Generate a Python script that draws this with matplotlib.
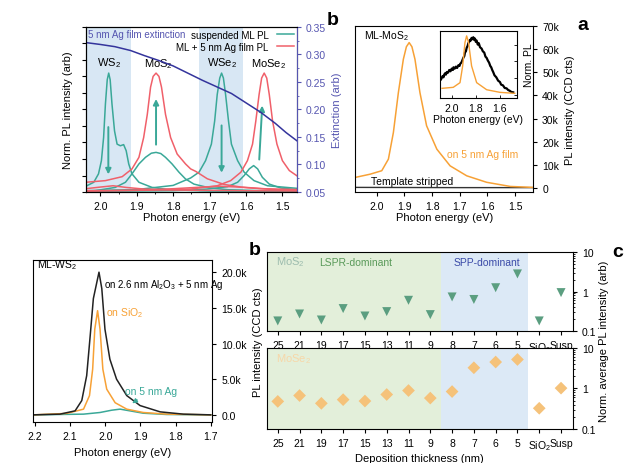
import numpy as np
import matplotlib
matplotlib.use('Agg')
import matplotlib.pyplot as plt
from matplotlib.ticker import FuncFormatter, NullFormatter

plt.rcParams['font.family'] = ['Liberation Sans', 'DejaVu Sans']
plt.rcParams['mathtext.default'] = 'regular'
plt.rcParams['font.size'] = 7.5

teal = '#3aa898'
red = '#f0606a'
orange = '#f7a136'
navy = '#34349c'
ext_col = '#5555b0'

# ---- panel b (top): PL of 4 monolayers + Ag film extinction ----
ext_x = [2.035, 2.0, 1.96, 1.917, 1.88, 1.84, 1.8, 1.76, 1.72, 1.68, 1.64, 1.6, 1.56, 1.52, 1.49, 1.46]
ext_y = [0.321, 0.318, 0.314, 0.307, 0.298, 0.289, 0.279, 0.266, 0.253, 0.241, 0.229, 0.212, 0.195, 0.175, 0.158, 0.143]

ws2_susp_x = [2.04, 2.037, 2.018, 2.005, 1.997, 1.991, 1.986, 1.981, 1.977, 1.973, 1.968, 1.961, 1.954, 1.945,
              1.936, 1.929, 1.922, 1.913, 1.894, 1.858, 1.803, 1.7, 1.6, 1.46]
ws2_susp_y = [0.036, 0.038, 0.059, 0.11, 0.19, 0.33, 0.533, 0.68, 0.72, 0.68, 0.533, 0.37, 0.29, 0.28,
              0.287, 0.25, 0.17, 0.11, 0.059, 0.028, 0.012, 0.006, 0.004, 0.003]
mos2_susp_x = [2.04, 2.014, 1.959, 1.931, 1.913, 1.894, 1.876, 1.86, 1.847, 1.834, 1.821, 1.803, 1.784, 1.766,
               1.743, 1.7, 1.65, 1.55, 1.46]
mos2_susp_y = [0.006, 0.008, 0.028, 0.059, 0.11, 0.17, 0.21, 0.235, 0.24, 0.233, 0.21, 0.17, 0.12, 0.079,
               0.048, 0.025, 0.014, 0.008, 0.005]
wse2_susp_x = [2.04, 1.9, 1.8, 1.752, 1.729, 1.711, 1.695, 1.686, 1.679, 1.672, 1.667, 1.662, 1.656, 1.648,
               1.64, 1.623, 1.605, 1.578, 1.541, 1.458]
wse2_susp_y = [0.008, 0.015, 0.04, 0.085, 0.12, 0.19, 0.29, 0.43, 0.59, 0.69, 0.72, 0.69, 0.59, 0.43,
               0.29, 0.19, 0.12, 0.069, 0.038, 0.022]
mose2_susp_x = [2.04, 1.8, 1.752, 1.706, 1.651, 1.623, 1.605, 1.591, 1.579, 1.568, 1.555, 1.536, 1.504, 1.458]
mose2_susp_y = [0.004, 0.008, 0.012, 0.018, 0.032, 0.059, 0.1, 0.14, 0.16, 0.14, 0.089, 0.048, 0.024, 0.014]

mos2_ag_x = [2.04, 1.986, 1.94, 1.913, 1.894, 1.881, 1.871, 1.862, 1.855, 1.847, 1.839, 1.832, 1.821, 1.807,
             1.789, 1.766, 1.752, 1.738, 1.706, 1.66, 1.614, 1.55, 1.46]
mos2_ag_y = [0.059, 0.069, 0.093, 0.14, 0.21, 0.33, 0.47, 0.635, 0.70, 0.72, 0.70, 0.635, 0.47, 0.33,
             0.23, 0.17, 0.14, 0.125, 0.08, 0.046, 0.03, 0.02, 0.015]
mose2_ag_x = [2.04, 1.85, 1.752, 1.679, 1.642, 1.614, 1.596, 1.582, 1.573, 1.564, 1.557, 1.55, 1.543, 1.536,
              1.527, 1.515, 1.5, 1.481, 1.458]
mose2_ag_y = [0.008, 0.012, 0.018, 0.038, 0.069, 0.12, 0.19, 0.29, 0.43, 0.59, 0.69, 0.72, 0.69, 0.59,
              0.43, 0.29, 0.19, 0.13, 0.095]
ws2_ag_x = [2.04, 2.0, 1.965, 1.93, 1.88, 1.8, 1.7, 1.6, 1.46]
ws2_ag_y = [0.02, 0.03, 0.038, 0.028, 0.018, 0.012, 0.01, 0.008, 0.006]
wse2_ag_x = [2.04, 1.9, 1.8, 1.72, 1.67, 1.62, 1.56, 1.5, 1.46]
wse2_ag_y = [0.005, 0.01, 0.02, 0.03, 0.035, 0.03, 0.02, 0.012, 0.01]

# ---- panel a: MoS2 on Ag film ----
mos2_film_x = [2.078, 2.024, 1.982, 1.958, 1.94, 1.922, 1.904, 1.893, 1.883, 1.873, 1.862, 1.844, 1.82,
               1.783, 1.735, 1.675, 1.603, 1.517, 1.435]
mos2_film_y = [4600, 6000, 7500, 12500, 24000, 41200, 55600, 61000, 62800, 61000, 55600, 41200, 26900,
               16800, 9600, 5300, 2500, 700, 300]
stripped_x = [2.078, 1.9, 1.7, 1.435]
stripped_y = [300, 250, 200, 200]

inset_black_x = [2.088, 2.08, 2.075, 2.068, 2.062, 2.055, 2.048, 2.04, 2.03, 2.02, 2.01, 2.0, 1.99, 1.985,
                 1.975, 1.965, 1.955, 1.945, 1.935, 1.93, 1.92, 1.915, 1.904, 1.895, 1.89, 1.882, 1.876,
                 1.868, 1.862, 1.855, 1.849, 1.842, 1.835, 1.828, 1.821, 1.814, 1.807, 1.8, 1.793, 1.784,
                 1.775, 1.765, 1.752, 1.742, 1.73, 1.72, 1.71, 1.7, 1.69, 1.68, 1.672, 1.664, 1.656, 1.645,
                 1.63, 1.615, 1.6, 1.59, 1.575, 1.56, 1.545, 1.532, 1.52, 1.505, 1.49]
inset_black_y = [0.28, 0.31, 0.33, 0.31, 0.35, 0.37, 0.35, 0.39, 0.38, 0.42, 0.4, 0.44, 0.42, 0.46,
                 0.44, 0.47, 0.45, 0.49, 0.48, 0.51, 0.53, 0.55, 0.6, 0.63, 0.68, 0.7, 0.75,
                 0.78, 0.82, 0.84, 0.87, 0.86, 0.9, 0.88, 0.91, 0.87, 0.89, 0.84, 0.86, 0.8,
                 0.82, 0.76, 0.74, 0.7, 0.68, 0.62, 0.6, 0.56, 0.53, 0.48, 0.46, 0.42, 0.39, 0.34,
                 0.31, 0.26, 0.24, 0.2, 0.19, 0.15, 0.145, 0.12, 0.11, 0.09, 0.085]
inset_orange_x = [2.08, 1.987, 1.931, 1.909, 1.89, 1.876, 1.86, 1.835, 1.793, 1.71, 1.6, 1.477]
inset_orange_y = [0.145, 0.16, 0.23, 0.48, 0.83, 0.93, 0.83, 0.48, 0.23, 0.124, 0.085, 0.07]

# ---- panel b (bottom): WS2 ----
ws2_al2o3_x = [2.205, 2.129, 2.086, 2.067, 2.053, 2.043, 2.034, 2.018, 2.01, 2.001, 1.987, 1.968, 1.939,
               1.901, 1.844, 1.778, 1.7]
ws2_al2o3_y = [0, 100, 560, 2000, 5500, 11100, 16300, 20000, 17700, 12000, 7800, 5000, 2700,
               1300, 420, 100, 0]
ws2_sio2_x = [2.205, 2.11, 2.062, 2.045, 2.036, 2.03, 2.022, 2.015, 2.007, 1.996, 1.972, 1.939, 1.892, 1.825, 1.7]
ws2_sio2_y = [0, 200, 800, 2700, 6400, 12000, 14600, 12000, 6400, 3600, 1700, 800, 330, 100, 0]
ws2_agfilm_x = [2.205, 2.062, 2.015, 1.982, 1.958, 1.93, 1.892, 1.825, 1.7]
ws2_agfilm_y = [0, 100, 330, 650, 800, 560, 230, 50, 0]

# ---- panel c: thickness dependence ----
thick_labels = ['Susp', 'SiO$_2$', '5', '6', '7', '8', '9', '11', '13', '15', '17', '19', '21', '25']
mos2_avg = [0.94, 0.18, 2.8, 1.25, 0.63, 0.73, 0.26, 0.6, 0.31, 0.24, 0.37, 0.19, 0.27, 0.18]
mose2_avg = [1.02, 0.325, 5.2, 4.5, 3.25, 0.84, 0.58, 0.89, 0.71, 0.49, 0.53, 0.43, 0.67, 0.48]

fig = plt.figure(figsize=(6.4, 4.64), dpi=100)


def mirror(ax):
    ax.yaxis.tick_right()
    ax.yaxis.set_label_position('right')
    ax.tick_params(direction='out', length=3, width=0.8, labelsize=7.5)
    for s in ax.spines.values():
        s.set_linewidth(0.8)


# top-left panel
ax = fig.add_axes([0.134, 0.584, 0.33, 0.356])
ax.axvspan(2.04, 1.917, color='#d8e7f4', lw=0)
ax.axvspan(1.73, 1.609, color='#d8e7f4', lw=0)
for xs, ys in [(ws2_susp_x, ws2_susp_y), (mos2_susp_x, mos2_susp_y), (wse2_susp_x, wse2_susp_y),
               (mose2_susp_x, mose2_susp_y)]:
    ax.plot(xs, ys, color=teal, lw=1.1)
for xs, ys in [(mos2_ag_x, mos2_ag_y), (mose2_ag_x, mose2_ag_y), (ws2_ag_x, ws2_ag_y), (wse2_ag_x, wse2_ag_y)]:
    ax.plot(xs, ys, color=red, lw=1.1)
ax.plot([], [], color=teal, lw=1.1, label='suspended ML PL')
ax.plot([], [], color=red, lw=1.1, label='ML + 5 nm Ag film PL')
ax.set_xlim(2.04, 1.46)
ax.set_ylim(0, 1)
ax.set_yticks(np.arange(0, 1.01, 0.1))
ax.set_yticklabels([])
ax.set_xticks([2.0, 1.9, 1.8, 1.7, 1.6, 1.5])
ax.set_xticks(np.arange(1.5, 2.04, 0.05), minor=True)
ax.tick_params(direction='out', length=3, width=0.8, labelsize=7.5)
ax.tick_params(which='minor', length=1.5)
ax.set_xlabel('Photon energy (eV)', fontsize=8, labelpad=1)
ax.set_ylabel('Norm. PL intensity (arb)', fontsize=8, labelpad=3)
arr = dict(arrowstyle='-|>', color=teal, lw=1.4, mutation_scale=8)
ax.annotate('', xy=(1.978, 0.09), xytext=(1.978, 0.41), arrowprops=arr)
ax.annotate('', xy=(1.847, 0.58), xytext=(1.847, 0.27), arrowprops=arr)
ax.annotate('', xy=(1.667, 0.1), xytext=(1.667, 0.42), arrowprops=arr)
ax.annotate('', xy=(1.555, 0.54), xytext=(1.564, 0.18), arrowprops=arr)
ax.text(1.977, 0.77, 'WS$_2$', ha='center', fontsize=8)
ax.text(1.84, 0.76, 'MoS$_2$', ha='center', fontsize=8)
ax.text(1.667, 0.77, 'WSe$_2$', ha='center', fontsize=8)
ax.text(1.537, 0.76, 'MoSe$_2$', ha='center', fontsize=8)
ax.text(2.035, 0.955, '5 nm Ag film extinction', color=ext_col, fontsize=7, va='center')
ax.legend(loc='upper right', frameon=False, markerfirst=False, fontsize=7, handlelength=1.8,
          borderpad=0.2, labelspacing=0.2, borderaxespad=0.1)
for s in ax.spines.values():
    s.set_linewidth(0.8)
ax2 = ax.twinx()
ax2.plot(ext_x, ext_y, color=navy, lw=1.1)
ax2.set_ylim(0.05, 0.35)
ax2.set_yticks([0.05, 0.10, 0.15, 0.20, 0.25, 0.30, 0.35])
ax2.yaxis.set_major_formatter(FuncFormatter(lambda v, p: '%.2f' % v))
ax2.set_yticks(np.arange(0.05, 0.351, 0.025), minor=True)
ax2.tick_params(direction='out', length=3, width=0.8, labelsize=7.5, colors=ext_col)
ax2.tick_params(which='minor', length=1.5, colors=ext_col)
ax2.spines['right'].set_color(ext_col)
ax2.set_ylabel('Extinction (arb)', color=ext_col, fontsize=8)

# panel a
axa = fig.add_axes([0.555, 0.584, 0.278, 0.358])
axa.plot(stripped_x, stripped_y, color='#333333', lw=1)
axa.plot(mos2_film_x, mos2_film_y, color=orange, lw=1.1)
axa.set_xlim(2.078, 1.435)
axa.set_ylim(-1700, 70000)
axa.set_yticks(np.arange(0, 70001, 10000))
axa.yaxis.set_major_formatter(FuncFormatter(lambda v, p: '0' if v == 0 else '%dk' % (v / 1000)))
axa.set_xticks([2.0, 1.9, 1.8, 1.7, 1.6, 1.5])
mirror(axa)
axa.set_xlabel('Photon energy (eV)', fontsize=8, labelpad=1)
axa.set_ylabel('PL intensity (CCD cts)', fontsize=8)
axa.text(2.045, 66000, 'ML-MoS$_2$', fontsize=7.5, va='center')
axa.text(1.745, 14600, 'on 5 nm Ag film', color=orange, fontsize=7.5, va='center')
axa.text(2.02, 3000, 'Template stripped', fontsize=7.5, va='center')

axi = fig.add_axes([0.6875, 0.7866, 0.12, 0.144])
axi.plot(inset_black_x, inset_black_y, color='black', lw=1.6)
axi.plot(inset_orange_x, inset_orange_y, color=orange, lw=1)
axi.set_xlim(2.097, 1.46)
axi.set_ylim(0, 1)
axi.set_xticks([2.0, 1.8, 1.6])
axi.set_yticks([0.05, 0.3, 0.55, 0.8])
axi.yaxis.tick_right()
axi.yaxis.set_label_position('right')
axi.set_yticklabels([])
axi.tick_params(direction='in', length=2, width=0.6, labelsize=7.5)
axi.set_xlabel('Photon energy (eV)', fontsize=7.5, labelpad=1)
axi.set_ylabel('Norm. PL', fontsize=7.5, labelpad=2)

# bottom-left panel
axw = fig.add_axes([0.052, 0.0884, 0.28, 0.349])
axw.plot(ws2_agfilm_x, ws2_agfilm_y, color=teal, lw=1.1)
axw.plot(ws2_sio2_x, ws2_sio2_y, color=orange, lw=1.1)
axw.plot(ws2_al2o3_x, ws2_al2o3_y, color='#222222', lw=1.1)
axw.set_xlim(2.205, 1.695)
axw.set_ylim(-1000, 21700)
axw.set_yticks([0, 5000, 10000, 15000, 20000])
axw.yaxis.set_major_formatter(FuncFormatter(lambda v, p: '0.0' if v == 0 else '%.1fk' % (v / 1000)))
axw.set_xticks([2.2, 2.1, 2.0, 1.9, 1.8, 1.7])
mirror(axw)
axw.set_xlabel('Photon energy (eV)', fontsize=8)
axw.set_ylabel('PL intensity (CCD cts)', fontsize=8)
axw.text(2.195, 21100, 'ML-WS$_2$', fontsize=7.5, va='center')
axw.text(2.003, 18400, 'on 2.6 nm Al$_2$O$_3$ + 5 nm Ag', fontsize=7, va='center')
axw.text(1.998, 14400, 'on SiO$_2$', color=orange, fontsize=7.5, va='center')
axw.annotate('on 5 nm Ag', xy=(1.93, 1400), xytext=(1.87, 3400), color=teal, fontsize=7.5,
             ha='center', va='center',
             arrowprops=dict(arrowstyle='-|>', color=teal, lw=0.9, mutation_scale=7))

# panel c
pos = np.arange(len(thick_labels))
axc1 = fig.add_axes([0.417, 0.2845, 0.478, 0.17])
axc2 = fig.add_axes([0.417, 0.0733, 0.478, 0.1746])
for axc, vals, mk, col, name, ncol in [(axc1, mos2_avg, 'v', '#5b9e80', 'MoS$_2$', '#9cbcae'),
                                       (axc2, mose2_avg, 'D', '#f5c27a', 'MoSe$_2$', '#f7d7a8')]:
    axc.axvspan(1.5, 5.5, color='#dce9f6', lw=0)
    axc.axvspan(5.5, 13.6, color='#e3efda', lw=0)
    axc.scatter(pos, vals, marker=mk, s=42, color=col, edgecolors='none', zorder=3)
    axc.set_yscale('log')
    axc.set_ylim(0.1, 10)
    axc.set_xlim(13.5, -0.54)
    axc.set_xticks(pos)
    axc.set_xticklabels(thick_labels)
    mirror(axc)
    axc.yaxis.set_major_formatter(FuncFormatter(lambda v, p: '%g' % v))
    axc.yaxis.set_minor_formatter(NullFormatter())
    axc.tick_params(which='minor', length=1.5)
    axc.text(0.03, 0.88, name, color=ncol, fontsize=8, transform=axc.transAxes, va='center')
axc1.text(0.29, 0.87, 'LSPR-dominant', color='#5a9a5a', fontsize=7.5, ha='center', va='center',
          transform=axc1.transAxes)
axc1.text(0.72, 0.87, 'SPP-dominant', color='#3a4aa8', fontsize=7.5, ha='center', va='center',
          transform=axc1.transAxes)
axc2.set_xlabel('Deposition thickness (nm)', fontsize=8, labelpad=1)
fig.text(0.943, 0.265, 'Norm. average PL intensity (arb)', rotation=90, fontsize=8, ha='center', va='center')

# panel letters
fig.text(0.91, 0.945, 'a', fontsize=14, fontweight='bold', va='center', ha='center')
fig.text(0.52, 0.955, 'b', fontsize=14, fontweight='bold', va='center', ha='center')
fig.text(0.398, 0.46, 'b', fontsize=14, fontweight='bold', va='center', ha='center')
fig.text(0.965, 0.455, 'c', fontsize=14, fontweight='bold', va='center', ha='center')

fig.savefig('out.png', dpi=100)
